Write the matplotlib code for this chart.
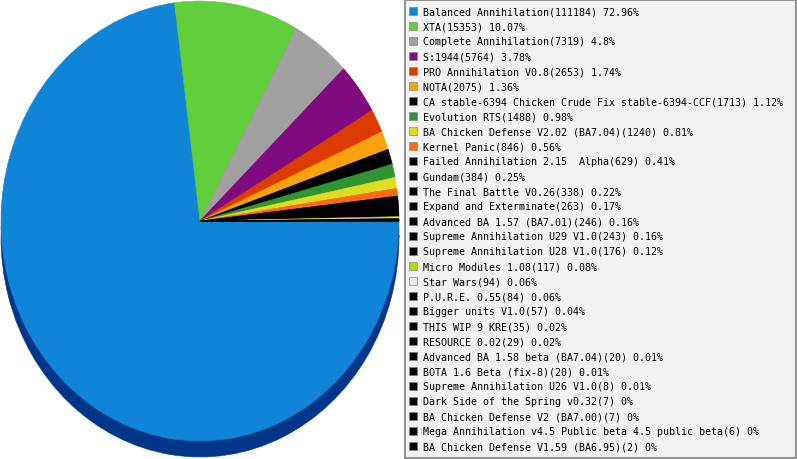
import numpy as np
import matplotlib.pyplot as plt
from matplotlib.patches import Rectangle
from matplotlib.colors import to_rgb

names = [
    'Balanced Annihilation', 'XTA', 'Complete Annihilation', 'S:1944',
    'PRO Annihilation V0.8', 'NOTA', 'CA stable-6394 Chicken Crude Fix stable-6394-CCF',
    'Evolution RTS', 'BA Chicken Defense V2.02 (BA7.04)', 'Kernel Panic',
    'Failed Annihilation 2.15  Alpha', 'Gundam', 'The Final Battle V0.26',
    'Expand and Exterminate', 'Advanced BA 1.57 (BA7.01)',
    'Supreme Annihilation U29 V1.0', 'Supreme Annihilation U28 V1.0',
    'Micro Modules 1.08', 'Star Wars', 'P.U.R.E. 0.55', 'Bigger units V1.0',
    'THIS WIP 9 KRE', 'RESOURCE 0.02', 'Advanced BA 1.58 beta (BA7.04)',
    'BOTA 1.6 Beta (fix-8)', 'Supreme Annihilation U26 V1.0',
    'Dark Side of the Spring v0.32', 'BA Chicken Defense V2 (BA7.00)',
    'Mega Annihilation v4.5 Public beta 4.5 public beta',
    'BA Chicken Defense V1.59 (BA6.95)',
]
counts = [111184, 15353, 7319, 5764, 2653, 2075, 1713, 1488, 1240, 846,
          629, 384, 338, 263, 246, 243, 176, 117, 94, 84,
          57, 35, 29, 20, 20, 8, 7, 7, 6, 2]

colors = ['#1084d6', '#60cf3b', '#a0a0a0', '#800a80', '#dc3c00', '#f9a20b',
          '#000000', '#2f9532', '#e0dc22', '#ff6a10'] + ['#000000'] * 7 + \
         ['#aadd00', '#e8e8e8'] + ['#000000'] * 11


def darken(c, f=0.5):
    r, g, b = to_rgb(c)
    return (r * f, g * f, b * f)


rim_colors = ['#00368a'] + [darken(c) for c in colors[1:]]

W, H = 797, 460
fig = plt.figure(figsize=(W / 100, H / 100), dpi=100)

# pie area: top face spans x 1..399, y 2..442 (px from top), rim depth 16 px
depth = 16 / 220
ax = fig.add_axes([1 / W, 2 / H, 398 / W, 456 / H])
rim, _ = ax.pie(counts, colors=rim_colors, startangle=0, counterclock=False,
                center=(0, -depth), wedgeprops=dict(linewidth=0.4))
top, _ = ax.pie(counts, colors=colors, startangle=0, counterclock=False,
                wedgeprops=dict(linewidth=0.4))
# edges in the slice colour, so no light seams between neighbours
for w in rim + top:
    w.set_edgecolor(w.get_facecolor())
ax.set_aspect('auto')
ax.set_xlim(-1, 1)
ax.set_ylim(1 - 456 / 220, 1)
ax.axis('off')

# legend drawn in pixel coordinates
lg = fig.add_axes([0, 0, 1, 1])
lg.set_xlim(0, W)
lg.set_ylim(H, 0)
lg.axis('off')
lg.add_patch(Rectangle((405.5, 0.5), 390.5, 458.5, facecolor='#f2f2f2',
                       edgecolor='#909090', linewidth=1.4))

total = sum(counts)
for i, (n, c, col) in enumerate(zip(names, counts, colors)):
    y = 12.3 + 15 * i
    pct = round(100 * c / total, 2)
    lg.add_patch(Rectangle((409.5, y - 4), 8, 8, facecolor=col,
                           edgecolor='#888888', linewidth=0.5))
    lg.text(423, y, f'{n}({c}) {pct:g}%', fontsize=7.2,
            family='DejaVu Sans Mono', va='center', ha='left', color='black')

fig.savefig('out.png', dpi=100)
